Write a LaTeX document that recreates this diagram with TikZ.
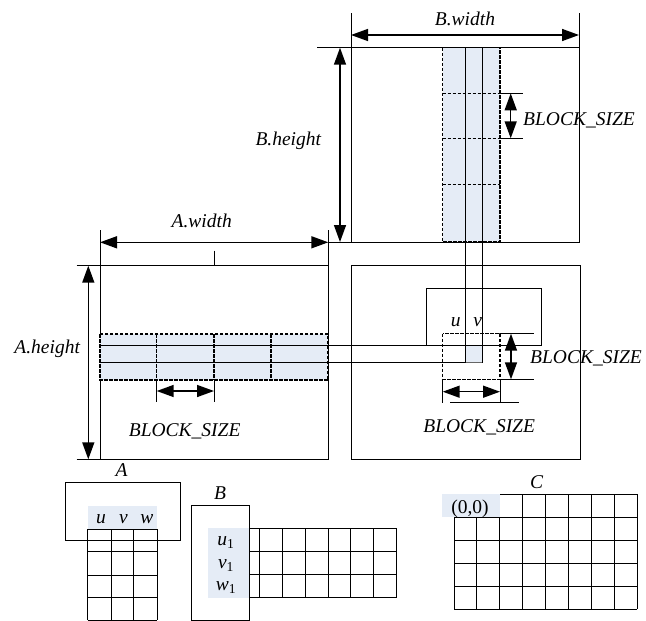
\documentclass[tikz,border=0pt]{standalone}
\usepackage{fontspec}
\setmainfont{Liberation Serif}
\usetikzlibrary{arrows.meta}

\definecolor{cellblue}{RGB}{229,236,246}
\tikzset{
  matbox/.style    = { draw, line width=0.9pt },
  strip/.style     = { draw, fill=cellblue, line width=1.3pt, dash pattern=on 3.5pt off 1.5pt },
  blockline/.style = { line width=1.3pt, dash pattern=on 3.5pt off 1.5pt },
  through/.style   = { line width=0.9pt },
  helper/.style    = { line width=0.7pt },
  cellgrid/.style  = { line width=0.9pt },
  dimarrow/.style  = { line width=1.5pt, {Triangle[length=17pt,width=12pt]}-{Triangle[length=17pt,width=12pt]} },
  lbl/.style       = { font=\fontsize{19.5}{22}\selectfont\itshape, inner sep=0pt, anchor=base },
  txt/.style       = { font=\fontsize{19.5}{22}\selectfont, inner sep=0pt, anchor=base },
}

\begin{document}
\begin{tikzpicture}[x=1pt,y=-1pt]
    \useasboundingbox (0,0) rectangle (646,621);

    % Matrices
    \draw[matbox] (351,47.7) rectangle (579,242);    % B
    \draw[matbox] (100,265.7) rectangle (328,459.3); % A
    \draw[matbox] (351,265) rectangle (580,459.3);   % C
    \draw[matbox] (426.7,288.3) rectangle (541.7,345.7);

    % Blocks of B and A
    \draw[strip] (442.7,47.7) rectangle (500,242);
    \foreach \y in {93.3,138.3,184.3}
        \draw[blockline] (442.7,\y) -- (500,\y);
    \draw[strip] (100,334) rectangle (328,380);
    \foreach \x in {156.7,214,271}
        \draw[blockline] (\x,334) -- (\x,380);

    % rows u,v and columns through to C
    \fill[cellblue] (465.7,345.7) rectangle (482.3,362.7);
    \draw[through] (465.7,47.7) -- (465.7,362.7);
    \draw[through] (482.3,47.7) -- (482.3,362.7);
    \draw[through] (100,345.7) -- (541.7,345.7);
    \draw[through] (100,362.7) -- (465.7,362.7);
    \draw[through, black!60] (465.7,362.7) -- (482.3,362.7);
    \draw[blockline] (442.7,333.7) rectangle (500,379.3);

    % extension lines
    \draw[helper] (351,13) -- (351,47.7) (579,13) -- (579,47.7);
    \draw[helper] (317,47.7) -- (351,47.7) (328.3,242) -- (351,242);
    \draw[helper] (500,93.3) -- (522.7,93.3) (500,138.3) -- (522.7,138.3);
    \draw[helper] (100,230) -- (100,265.7) (328.3,230) -- (328.3,265.7);
    \draw[helper] (214,250.7) -- (214,265.7);
    \draw[helper] (76.7,265.7) -- (100,265.7) (76.7,459.3) -- (100,459.3);
    \draw[helper] (156.7,380) -- (156.7,401.7) (214,380) -- (214,401.7);
    \draw[helper] (500,333.7) -- (534,333.7) (500,379.3) -- (534,379.3);
    \draw[helper] (442.7,379.3) -- (442.7,402.7) (500,379.3) -- (500,402.7);
    \draw[helper] (450,402.7) -- (519,402.7);

    % dimensions
    \coordinate (bw_l) at (351,35);    \coordinate (bw_r) at (579,35);
    \coordinate (bh_t) at (340,47.7);  \coordinate (bh_b) at (340,242);
    \coordinate (bs_t) at (510.7,93.3); \coordinate (bs_b) at (510.7,138.3);
    \coordinate (aw_l) at (100,242.3); \coordinate (aw_r) at (328.3,242.3);
    \coordinate (ah_t) at (88.3,265.7); \coordinate (ah_b) at (88.3,459.3);
    \coordinate (as_l) at (156.7,391); \coordinate (as_r) at (214,391);
    \coordinate (cv_t) at (511,333.7); \coordinate (cv_b) at (511,379.3);
    \coordinate (ch_l) at (442.7,391.7); \coordinate (ch_r) at (500,391.7);
    \draw[dimarrow] (bw_l) -- (bw_r);
    \draw[dimarrow] (bh_t) -- (bh_b);
    \draw[dimarrow] (bs_t) -- (bs_b);
    \draw[dimarrow] (aw_l) -- (aw_r);
    \draw[dimarrow] (ah_t) -- (ah_b);
    \draw[dimarrow] (as_l) -- (as_r);
    \draw[dimarrow] (cv_t) -- (cv_b);
    \draw[dimarrow] (ch_l) -- (ch_r);

    % labels
    \node[lbl] (bwidth) at (465,25) {B.width};
    \node[lbl] (bheight) at (288.3,145) {B.height};
    \node[lbl, anchor=base west] (bsize_b) at (523,125) {BLOCK\_SIZE};
    \node[lbl] (awidth) at (201.7,227) {A.width};
    \node[lbl] (aheight) at (47.2,353.4) {A.height};
    \node[lbl] (bsize_a) at (184.7,436) {BLOCK\_SIZE};
    \node[lbl, anchor=base west] (bsize_cv) at (530,363) {BLOCK\_SIZE};
    \node[lbl] (bsize_ch) at (479.2,432) {BLOCK\_SIZE};
    \node[lbl] (cu) at (455.8,326.7) {u};
    \node[lbl] (cv) at (477.8,326.7) {v};

    % small A
    \node[lbl] (sa) at (121.7,476.7) {A};
    \fill[cellblue] (87.7,506) rectangle (157.3,529.3);
    \foreach \x in {87.7,111,133.7,157.3}
        \draw[cellgrid] (\x,529.3) -- (\x,620);
    \foreach \y in {529.3,551.7,575,597.3,620}
        \draw[cellgrid] (87.7,\y) -- (157.3,\y);
    \draw[matbox] (65.7,482.7) rectangle (180,540);
    \node[lbl] (sa_u) at (101,523.3) {u};
    \node[lbl] (sa_v) at (123.5,523.3) {v};
    \node[lbl] (sa_w) at (147,523.3) {w};

    % small B
    \node[lbl] (sb) at (220,499.7) {B};
    \fill[cellblue] (208.3,528.3) rectangle (249,597.7);
    \foreach \x in {259.3,282.2,305.1,328,350.9,373.8,396.7}
        \draw[cellgrid] (\x,528.3) -- (\x,597.7);
    \foreach \y in {528.3,551.7,574.3,597.7}
        \draw[cellgrid] (249,\y) -- (396.7,\y);
    \draw[matbox] (191.3,505.7) rectangle (249,620);
    \node[lbl] (sb_u) at (226,545) {u\textup{\textsubscript{1}}};
    \node[lbl] (sb_v) at (226,568.3) {v\textup{\textsubscript{1}}};
    \node[lbl] (sb_w) at (226,590.7) {w\textup{\textsubscript{1}}};

    % small C
    \node[lbl] (sc) at (536.7,488.3) {C};
    \foreach \i in {0,...,8}
        \draw[cellgrid] (454+22.91*\i,494.3) -- (454+22.91*\i,609);
    \foreach \j in {0,...,5}
        \draw[cellgrid] (454,494.3+22.94*\j) -- (637.3,494.3+22.94*\j);
    \fill[cellblue] (441.7,494.3) rectangle (499.7,517.3);
    \node[txt] (origin) at (470,513.5) {(0,0)};

\end{tikzpicture}
\end{document}
